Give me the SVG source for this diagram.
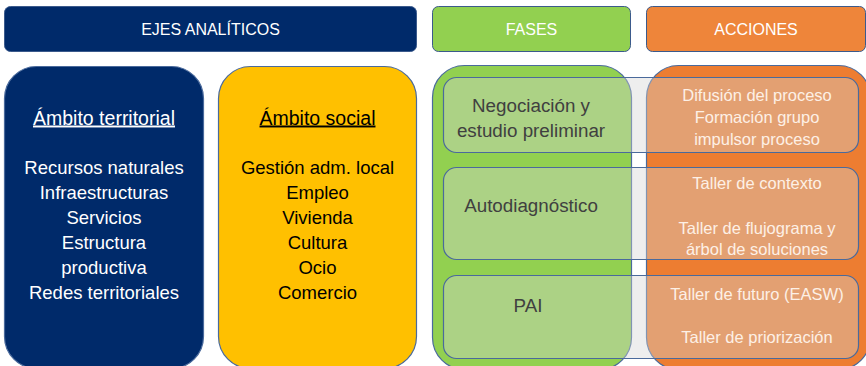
<svg xmlns="http://www.w3.org/2000/svg" width="866" height="366" viewBox="0 0 866 366">
<style>
.hdr{stroke:#3b5a8c;stroke-width:1}
.big{stroke:#4a6a9c;stroke-width:1.2}
.row{fill:#d4d4d4;fill-opacity:0.4;stroke:#4a6a9c;stroke-width:1.2}
text{font-family:"Liberation Sans",Arial,sans-serif;text-anchor:middle}
.ht{fill:#ffffff;font-size:16px}
.bt{fill:#ffffff;font-size:18.5px}
.yt{fill:#000000;font-size:18.5px}
.ttl{font-size:19.5px;text-decoration:underline}
.gt{fill:#404040;font-size:18.8px}
.ot{fill:#fdf0e6;font-size:16.5px}
</style>
<rect width="866" height="366" fill="#ffffff"/>
<g id="hdr-ejes">
<rect class="hdr" x="4.5" y="6.5" width="412" height="45" rx="6" fill="#002a6a"/>
<text class="ht" x="210.5" y="35">EJES ANALÍTICOS</text>
</g>
<g id="hdr-fases">
<rect class="hdr" x="432.5" y="6.5" width="198" height="45" rx="6" fill="#92d050"/>
<text class="ht" x="531.5" y="35">FASES</text>
</g>
<g id="hdr-acciones">
<rect class="hdr" x="646.5" y="6.5" width="219" height="45" rx="6" fill="#ee853a"/>
<text class="ht" x="756" y="35">ACCIONES</text>
</g>
<g id="ambito-territorial">
<rect class="big" x="4.5" y="66.5" width="199" height="302" rx="32" fill="#002a6a"/>
<text class="bt ttl" x="104" y="124.5">Ámbito territorial</text>
<text class="bt" x="104" y="173.5">Recursos naturales</text>
<text class="bt" x="104" y="198.5">Infraestructuras</text>
<text class="bt" x="104" y="223.5">Servicios</text>
<text class="bt" x="104" y="248.5">Estructura</text>
<text class="bt" x="104" y="273.5">productiva</text>
<text class="bt" x="104" y="298.5">Redes territoriales</text>
</g>
<g id="ambito-social">
<rect class="big" x="218.5" y="66.5" width="198" height="302" rx="32" fill="#ffc000"/>
<text class="yt ttl" x="317.5" y="124.5">Ámbito social</text>
<text class="yt" x="317.5" y="173.5">Gestión adm. local</text>
<text class="yt" x="317.5" y="198.5">Empleo</text>
<text class="yt" x="317.5" y="223.5">Vivienda</text>
<text class="yt" x="317.5" y="248.5">Cultura</text>
<text class="yt" x="317.5" y="273.5">Ocio</text>
<text class="yt" x="317.5" y="298.5">Comercio</text>
</g>
<g id="fases">
<rect class="big" x="432.5" y="65.5" width="199" height="304" rx="32" fill="#92d050"/>
</g>
<g id="acciones">
<rect class="big" x="646.5" y="65.5" width="224" height="304" rx="32" fill="#ed7d31"/>
</g>
<g id="fila-1">
<rect class="row" x="443.5" y="77.5" width="415" height="75" rx="13"/>
<text class="gt" x="531" y="111.5">Negociación y</text>
<text class="gt" x="531" y="136.5">estudio preliminar</text>
<text class="ot" x="757" y="101">Difusión del proceso</text>
<text class="ot" x="757" y="123">Formación grupo</text>
<text class="ot" x="757" y="145">impulsor proceso</text>
</g>
<g id="fila-2">
<rect class="row" x="443.5" y="167.5" width="415" height="92" rx="13"/>
<text class="gt" x="531" y="211.5">Autodiagnóstico</text>
<text class="ot" x="757" y="189">Taller de contexto</text>
<text class="ot" x="757" y="234">Taller de flujograma y</text>
<text class="ot" x="757" y="255">árbol de soluciones</text>
</g>
<g id="fila-3">
<rect class="row" x="443.5" y="275.5" width="415" height="83" rx="13"/>
<text class="gt" x="528" y="311.5">PAI</text>
<text class="ot" x="757" y="300">Taller de futuro (EASW)</text>
<text class="ot" x="757" y="343">Taller de priorización</text>
</g>
</svg>
